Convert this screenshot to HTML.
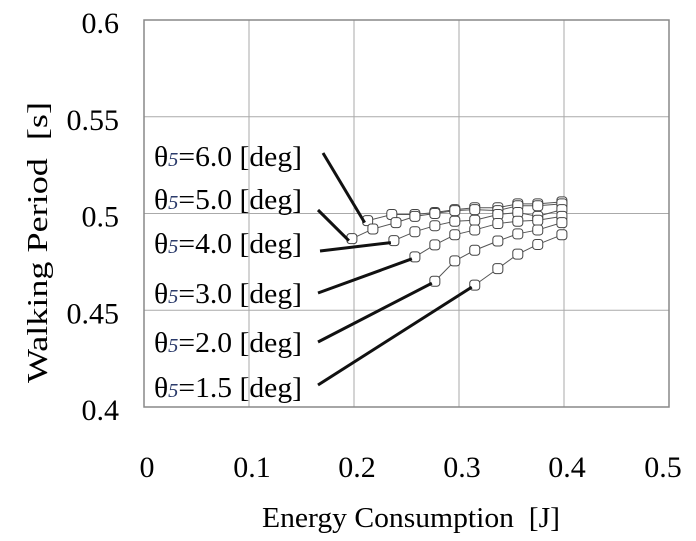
<!DOCTYPE html>
<html><head><meta charset="utf-8"><style>
body{margin:0;background:#fff;}
svg{display:block;font-family:"Liberation Serif",serif;}
text{white-space:pre;}
</style></head><body>
<svg id="c" width="696" height="541"></svg>
<script>
const xTicks=[0,0.1,0.2,0.3,0.4,0.5];
const xTickLabels=["0","0.1","0.2","0.3","0.4","0.5"];
const yTicks=[0.4,0.45,0.5,0.55,0.6];
const yTickLabels=["0.4","0.45","0.5","0.55","0.6"];
const seriesNames=["6.0","5.0","4.0","3.0","2.0","1.5"];
const s60x=[0.213,0.236,0.258,0.277,0.296,0.315,0.337,0.356,0.375,0.398];
const s60y=[0.4963,0.4995,0.4995,0.5005,0.502,0.503,0.503,0.505,0.505,0.506];
const s50x=[0.198,0.218,0.24,0.258,0.277,0.296,0.315,0.337,0.356,0.375,0.398];
const s50y=[0.487,0.492,0.4953,0.4985,0.5,0.5015,0.502,0.5015,0.504,0.504,0.505];
const s40x=[0.238,0.258,0.277,0.296,0.315,0.337,0.356,0.375,0.398];
const s40y=[0.486,0.4906,0.4937,0.496,0.4965,0.4995,0.5005,0.4985,0.502];
const s30x=[0.258,0.277,0.296,0.315,0.337,0.356,0.375,0.398];
const s30y=[0.4776,0.4838,0.489,0.4915,0.4948,0.496,0.4965,0.4985];
const s20x=[0.277,0.296,0.315,0.337,0.356,0.375,0.398];
const s20y=[0.465,0.4755,0.481,0.4858,0.4895,0.4915,0.4953];
const s15x=[0.315,0.337,0.356,0.375,0.398];
const s15y=[0.463,0.4715,0.479,0.484,0.489];
const allX=[s60x,s50x,s40x,s30x,s20x,s15x], allY=[s60y,s50y,s40y,s30y,s20y,s15y];
const NS="http://www.w3.org/2000/svg", svg=document.getElementById('c');
const X=v=>144+v*1050, Y=v=>213.5-(v-0.5)*1935;
function mk(t,a,p){const e=document.createElementNS(NS,t);for(const k in a)e.setAttribute(k,a[k]);(p||svg).appendChild(e);return e;}
const grid=mk('g',{});


xTicks.forEach(v=>{if(v>0&&v<0.5)mk('line',{x1:X(v),x2:X(v),y1:Y(0.6),y2:Y(0.4),stroke:'#aaa','stroke-width':1},grid);});
yTicks.forEach(v=>{if(v>0.4&&v<0.6)mk('line',{x1:X(0),x2:X(0.5),y1:Y(v),y2:Y(v),stroke:'#aaa','stroke-width':1},grid);});
const fr=mk('rect',{x:X(0),y:Y(0.6),width:X(0.5)-X(0),height:Y(0.4)-Y(0.6),fill:'none',stroke:'#888','stroke-width':1.5});


xTicks.forEach((v,i)=>{const t=mk('text',{x:(i==5?663:X(v)+3),y:477,'font-size':30,'text-anchor':'middle'});t.textContent=xTickLabels[i];

});
yTicks.forEach((v,i)=>{const t=mk('text',{x:119,y:Y(v)+13,'font-size':30,'text-anchor':'end'});t.textContent=yTickLabels[i];

});
const xt=mk('text',{x:262,y:527,'font-size':28,textLength:298,lengthAdjust:'spacingAndGlyphs'});xt.textContent='Energy Consumption  [J]';


const yt=mk('text',{x:0,y:0,'font-size':28,textLength:281,lengthAdjust:'spacingAndGlyphs',transform:'translate(47 383) rotate(-90)'});yt.textContent='Walking Period  [s]';


const labY=[166,209,253,303,352,397];
const labEnd=[[323,153],[318,210],[320,251],[318,293],[318,342],[318,385]];
allX.forEach((xs,si)=>{
  const g=mk('g',{});
  
  
  mk('polyline',{points:xs.map((x,i)=>X(x)+','+Y(allY[si][i])).join(' '),fill:'none',stroke:'#555','stroke-width':1},g);
  xs.forEach((x,i)=>{const r=mk('rect',{x:X(x)-5,y:Y(allY[si][i])-5,width:10,height:10,rx:3,fill:'#fff',stroke:'#444','stroke-width':1},g);
  
  });
  const l=mk('line',{x1:labEnd[si][0],y1:labEnd[si][1],x2:X(xs[0])-3,y2:Y(allY[si][0])+2,stroke:'#111','stroke-width':3});
  
  
  const t=mk('text',{x:154,y:labY[si],'font-size':29,textLength:148,lengthAdjust:'spacingAndGlyphs'});
  
  
  t.innerHTML='θ<tspan font-size="20" font-style="italic" fill="#2a3a6a">5</tspan>='+seriesNames[si]+' [deg]';
});
</script>
</body></html>
